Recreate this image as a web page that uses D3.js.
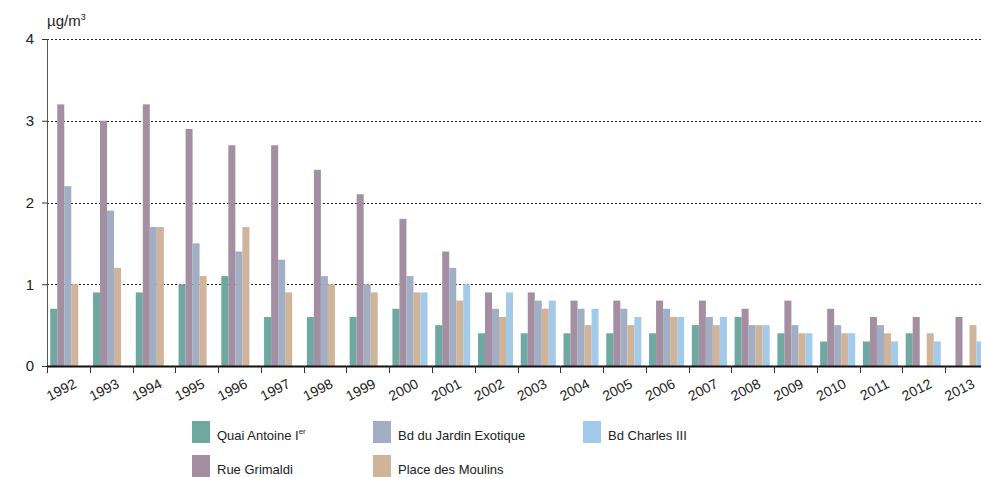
<!DOCTYPE html>
<html>
<head>
<meta charset="utf-8">
<script src="https://cdn.jsdelivr.net/npm/d3@7"></script>
<style>
    body { margin: 0; background: #fff; }
    svg { display: block; font-family: "Liberation Sans", Arial, Helvetica, sans-serif; }
</style>
</head>
<body>
<div id="chart"></div>
<script>
// years on the x axis
const years = ["1992", "1993", "1994", "1995", "1996", "1997", "1998", "1999", "2000", "2001", "2002",
    "2003", "2004", "2005", "2006", "2007", "2008", "2009", "2010", "2011", "2012", "2013"];

// series values (µg/m3), null = no measure
const quaiAntoine = [0.7, 0.9, 0.9, 1.0, 1.1, 0.6, 0.6, 0.6, 0.7, 0.5, 0.4, 0.4, 0.4, 0.4, 0.4, 0.5, 0.6, 0.4, 0.3, 0.3, 0.4, null];
const rueGrimaldi = [3.2, 3.0, 3.2, 2.9, 2.7, 2.7, 2.4, 2.1, 1.8, 1.4, 0.9, 0.9, 0.8, 0.8, 0.8, 0.8, 0.7, 0.8, 0.7, 0.6, 0.6, 0.6];
const jardinExotique = [2.2, 1.9, 1.7, 1.5, 1.4, 1.3, 1.1, 1.0, 1.1, 1.2, 0.7, 0.8, 0.7, 0.7, 0.7, 0.6, 0.5, 0.5, 0.5, 0.5, null, null];
const placeMoulins = [1.0, 1.2, 1.7, 1.1, 1.7, 0.9, 1.0, 0.9, 0.9, 0.8, 0.6, 0.7, 0.5, 0.5, 0.6, 0.5, 0.5, 0.4, 0.4, 0.4, 0.4, 0.5];
const charlesIII = [null, null, null, null, null, null, null, null, 0.9, 1.0, 0.9, 0.8, 0.7, 0.6, 0.6, 0.6, 0.5, 0.4, 0.4, 0.3, 0.3, 0.3];

const yTicks = [0, 1, 2, 3, 4];

// order of bars inside a year group
const series = [
    { key: "quai", values: quaiAntoine, color: "#6fa7a1" },
    { key: "grimaldi", values: rueGrimaldi, color: "#a48fa2" },
    { key: "jardin", values: jardinExotique, color: "#a1aec3" },
    { key: "moulins", values: placeMoulins, color: "#cfb499" },
    { key: "charles", values: charlesIII, color: "#a4caea" }
];

const width = 981, height = 477;
const margin = { top: 39, left: 47, bottom: 111 };

const svg = d3.select("#chart").append("svg")
    .attr("width", width)
    .attr("height", height);

// scales
const x = d3.scaleBand()
    .domain(years)
    .range([margin.left, 988])
    .padding(0);

const xSub = d3.scaleBand()
    .domain(series.map(s => s.key))
    .range([0, x.bandwidth()])
    .paddingInner(0)
    .paddingOuter(0.55)
    .align(0.42);

const y = d3.scaleLinear()
    .domain([0, 4])
    .range([height - margin.bottom, margin.top]);

// dotted grid lines
svg.append("g")
    .selectAll("line")
    .data(yTicks.filter(d => d > 0))
    .enter().append("line")
    .attr("x1", margin.left)
    .attr("x2", width)
    .attr("y1", d => Math.round(y(d)) + 0.5)
    .attr("y2", d => Math.round(y(d)) + 0.5)
    .attr("stroke", "#222")
    .attr("stroke-width", 1)
    .attr("stroke-dasharray", "2,2");

// bars
const rows = [];
series.forEach(s => {
    s.values.forEach((v, i) => {
        if (v !== null) rows.push({ key: s.key, year: years[i], value: v, color: s.color });
    });
});

svg.append("g")
    .selectAll("rect")
    .data(rows)
    .enter().append("rect")
    .attr("x", d => x(d.year) + xSub(d.key))
    .attr("y", d => y(d.value))
    .attr("width", xSub.bandwidth())
    .attr("height", d => y(0) - y(d.value))
    .attr("fill", d => d.color);

// y axis
const yAxis = svg.append("g")
    .attr("transform", `translate(${margin.left},0)`)
    .call(d3.axisLeft(y).tickValues(yTicks).tickSize(5).tickPadding(8).tickFormat(d3.format("d")));
yAxis.select(".domain").attr("stroke", "#555");
yAxis.selectAll(".tick line").attr("stroke", "#333");
yAxis.selectAll("text")
    .attr("font-size", 15)
    .attr("fill", "#222")
    .style("font-family", "Liberation Sans, Arial, sans-serif");

// x axis with ticks at band edges
const xAxis = svg.append("g")
    .attr("transform", `translate(0,${y(0)})`);

xAxis.append("line")
    .attr("x1", margin.left)
    .attr("x2", width)
    .attr("y1", 0.5)
    .attr("y2", 0.5)
    .attr("stroke", "#111")
    .attr("stroke-width", 2);

xAxis.selectAll(".xtick")
    .data(years)
    .enter().append("line")
    .attr("class", "xtick")
    .attr("x1", d => Math.round(x(d)) + 0.5)
    .attr("x2", d => Math.round(x(d)) + 0.5)
    .attr("y1", 0)
    .attr("y2", 7)
    .attr("stroke", "#333");

xAxis.selectAll(".xlabel")
    .data(years)
    .enter().append("text")
    .attr("class", "xlabel")
    .attr("transform", d => `translate(${x(d) + x.bandwidth() / 2 + 9},${21}) rotate(-27)`)
    .attr("text-anchor", "end")
    .attr("font-size", 14)
    .attr("fill", "#222")
    .text(d => d);

// unit label
const unit = svg.append("text")
    .attr("x", margin.left)
    .attr("y", 26)
    .attr("font-size", 15)
    .attr("fill", "#222");
unit.append("tspan").text("µg/m");
unit.append("tspan").attr("font-size", 9).attr("dy", -6).text("3");

// legend
const legendItems = [
    { label: "Quai Antoine I", sup: "er", color: series[0].color, col: 0, row: 0 },
    { label: "Bd du Jardin Exotique", sup: null, color: series[2].color, col: 1, row: 0 },
    { label: "Bd Charles III", sup: null, color: series[4].color, col: 2, row: 0 },
    { label: "Rue Grimaldi", sup: null, color: series[1].color, col: 0, row: 1 },
    { label: "Place des Moulins", sup: null, color: series[3].color, col: 1, row: 1 }
];
const legendX = [192, 373, 583];
const legendY = [421, 455];

const legend = svg.append("g").attr("class", "legend");
const item = legend.selectAll("g")
    .data(legendItems)
    .enter().append("g")
    .attr("transform", d => `translate(${legendX[d.col]},${legendY[d.row]})`);

item.append("rect")
    .attr("width", 18)
    .attr("height", 22)
    .attr("fill", d => d.color);

const label = item.append("text")
    .attr("x", 25)
    .attr("y", 19)
    .attr("font-size", 13)
    .attr("fill", "#222");
label.append("tspan").text(d => d.label);
label.filter(d => d.sup).append("tspan")
    .attr("font-size", 8)
    .attr("dy", -6)
    .text(d => d.sup);
</script>
</body>
</html>
